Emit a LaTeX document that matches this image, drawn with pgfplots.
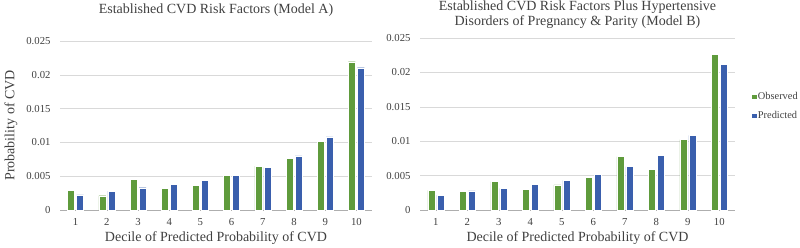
\documentclass[border=0pt]{standalone}
\usepackage{pgfplots}
\pgfplotsset{compat=1.18}
\usepackage{fontspec}
\setmainfont{Liberation Serif}
\definecolor{obsgreen}{HTML}{5F9B3C}
\definecolor{predblue}{HTML}{3A5FAD}
\definecolor{gridgray}{HTML}{D9D9D9}
\definecolor{txtgray}{HTML}{404040}
\pgfplotsset{
  calstyle/.style={
    scale only axis,
    anchor=south west,
    ybar,
    bar width=7pt,
    ymin=0, ymax=0.025,
    xmin=0.5, xmax=10.5,
    xtick={1,...,10},
    ytick={0,0.005,0.01,0.015,0.02,0.025},
    yticklabels={0,0.005,0.01,0.015,0.02,0.025},
    scaled y ticks=false,
    ymajorgrids,
    grid style={gridgray, line width=0.6pt},
    major tick length=0pt,
    axis x line*=bottom,
    axis y line*=left,
    y axis line style={draw=none},
    x axis line style={gridgray!80!black, line width=0.6pt, -},
    tick label style={font=\fontsize{10.7}{12}\selectfont, text=txtgray},
    /pgf/number format/assume math mode=true,
    xticklabel style={anchor=center, yshift=-12pt},
    yticklabel style={xshift=-6pt},
    xlabel style={font=\fontsize{14}{15}\selectfont, text=txtgray,
      at={(axis description cs:0.5,0)}, anchor=center, yshift=-28pt},
    ylabel style={font=\fontsize{14}{15}\selectfont, text=txtgray},
    title style={font=\fontsize{14}{15}\selectfont, text=txtgray, align=center,
      at={(axis description cs:0.5,1)}, anchor=center},
    clip=false,
  }
}
\begin{document}
\begin{tikzpicture}[x=1pt,y=1pt]
\path[use as bounding box] (0,0) rectangle (800,247);
\begin{axis}[calstyle,
  at={(60pt,37pt)}, width=312pt, height=169pt,
  title={Established CVD Risk Factors (Model A)},
  title style={yshift=25pt},
  xlabel={Decile of Predicted Probability of CVD},
  ylabel={Probability of CVD},
  ylabel style={at={(axis description cs:-0.157,0.5)}, anchor=center},
]
\addplot[fill=obsgreen, draw=white, line width=0.3pt, bar shift=-4.5pt] coordinates {
(1,0.00291) (2,0.00212) (3,0.00454) (4,0.00320) (5,0.00365)
(6,0.00513) (7,0.00650) (8,0.00764) (9,0.01016) (10,0.02194)};
\addplot[fill=predblue, draw=white, line width=0.3pt, bar shift=4.5pt] coordinates {
(1,0.00222) (2,0.00281) (3,0.00330) (4,0.00380) (5,0.00439)
(6,0.00513) (7,0.00631) (8,0.00799) (9,0.01080) (10,0.02105)};
\end{axis}
\begin{axis}[calstyle,
  at={(420pt,37pt)}, width=315pt, height=172pt,
  title={Established CVD Risk Factors Plus Hypertensive\\Disorders of Pregnancy \& Parity (Model B)},
  title style={yshift=17pt},
  xlabel={Decile of Predicted Probability of CVD},
  legend style={at={(1.052,0.605)}, anchor=west, draw=none, fill=none,
    font=\fontsize{10.4}{12}\selectfont, text=txtgray, row sep=8pt,
    inner sep=0pt, outer sep=0pt, nodes={inner sep=1pt}},
  legend cell align=left,
  legend image code/.code={\fill[#1] (0pt,-2.6pt) rectangle (5.2pt,2.6pt);},
]
\addplot[fill=obsgreen, draw=white, line width=0.3pt, bar shift=-4.5pt] coordinates {
(1,0.00286) (2,0.00267) (3,0.00413) (4,0.00296) (5,0.00364)
(6,0.00476) (7,0.00777) (8,0.00592) (9,0.01024) (10,0.02267)};
\addplot[fill=predblue, draw=white, line width=0.3pt, bar shift=4.5pt] coordinates {
(1,0.00218) (2,0.00277) (3,0.00316) (4,0.00374) (5,0.00432)
(6,0.00519) (7,0.00631) (8,0.00796) (9,0.01083) (10,0.02121)};
\legend{Observed, Predicted}
\end{axis}
\end{tikzpicture}
\end{document}
